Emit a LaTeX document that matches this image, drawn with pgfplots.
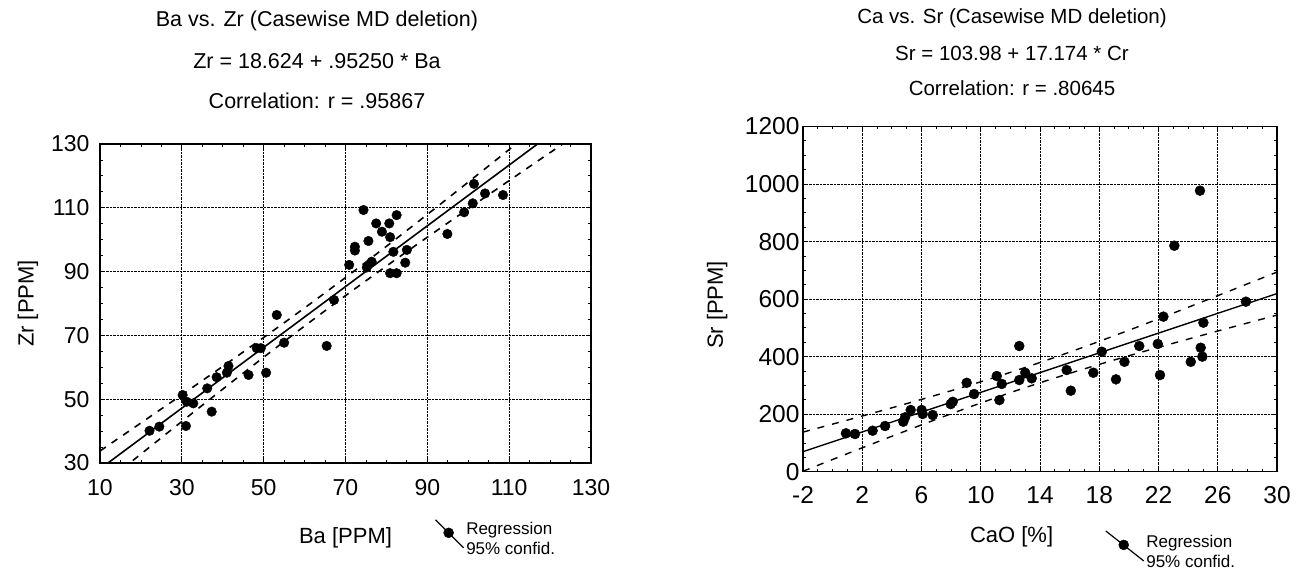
\documentclass[border=0pt]{standalone}
\usepackage{fontspec}
\setmainfont{Liberation Sans}
\usepackage{pgfplots}
\pgfplotsset{compat=1.18}
\pgfplotsset{myax/.style={
  scale only axis,
  axis line style={line width=1.5pt},
  tick align=inside, major tick length=5pt, minor tick length=3pt,
  tick style={black, line width=0.8pt},
  grid=major, major grid style={densely dotted, line width=0.7pt, black},
  /pgf/number format/assume math mode=true,
  /pgf/number format/1000 sep={},
  tick label style={font=\fontsize{23}{23}\selectfont},
  label style={font=\fontsize{22}{22}\selectfont},
  minor x tick num=3, minor y tick num=3,
  legend style={draw=none, fill=none, inner sep=0pt, font=\fontsize{17}{20}\selectfont},
}}
\begin{document}
\begin{tikzpicture}
\path[use as bounding box] (0pt,0pt) rectangle (1304pt,571pt);
% ---------------- left -----------------
\begin{axis}[myax,
  at={(100pt,108pt)}, anchor=south west,
  width=491pt, height=319pt,
  xmin=10, xmax=130, ymin=30, ymax=130,
  xtick={10,30,...,130}, ytick={30,50,...,130},
  xticklabel style={yshift=-13pt},
  yticklabel style={xshift=-7pt},
  xlabel={Ba [PPM]}, ylabel={Zr [PPM]},
  xlabel style={at={(axis description cs:0.5,-0.235)}, anchor=center},
  ylabel style={at={(axis description cs:-0.147,0.5)}, anchor=center},
  legend style={at={(axis description cs:0.682,-0.222)}, anchor=west},
]
\addplot[forget plot, only marks, mark=*, mark size=4.8pt, black] coordinates {
(22.1,40.1) (24.5,41.4) (30.2,51.3) (31.2,49.2) (32.8,48.7) (31.0,41.6)
(36.2,53.4) (37.3,46.1) (38.5,56.9) (41.0,58.3) (41.4,60.4) (46.3,57.6)
(48.3,66.0) (49.3,66.0) (50.6,58.3) (53.2,76.4) (55.0,67.7) (65.4,66.7)
(67.2,81.1) (70.9,92.1) (72.3,97.8) (72.3,96.6) (74.4,109.3) (75.6,99.6)
(75.2,91.3) (76.4,93.1) (77.5,105.1) (78.9,102.5) (80.7,105.1) (82.5,107.7)
(80.9,100.8) (81.7,96.2) (85.0,96.8) (84.6,92.8) (80.9,89.5) (82.5,89.5)
(94.9,101.8) (99.0,108.6) (101.1,111.4) (101.4,117.5) (104.1,114.5) (108.5,114.0)
};
\addplot[forget plot, black, line width=1.6pt] coordinates {(10,28.149) (130,142.449)};
\addplot[forget plot, black, line width=1.6pt, dash pattern=on 7pt off 7pt, smooth] coordinates {
(10,33.77) (20,42.55) (30,51.38) (40,60.29) (50,69.35) (60,78.61) (70,88.13)
(80,97.92) (90,107.92) (100,118.05) (110,128.27) (120,138.55) (130,148.85)};
\addplot[forget plot, black, line width=1.6pt, dash pattern=on 7pt off 7pt, smooth] coordinates {
(10,22.53) (20,32.80) (30,43.02) (40,53.15) (50,63.15) (60,72.94) (70,82.46)
(80,91.73) (90,100.78) (100,109.70) (110,118.53) (120,127.30) (130,136.04)};
\addlegendimage{legend image code/.code={
  \draw[black, line width=1.2pt] (0pt,14pt) -- (28pt,-14pt);
  \fill[black] (13pt,1pt) circle (5pt);}}
\addlegendentry{\begin{tabular}{@{}l@{}}Regression\\95\% confid.\end{tabular}}
\end{axis}
\node[font=\fontsize{21.5}{21.5}\selectfont] at (317pt,550pt) {Ba vs. Zr (Casewise MD deletion)};
\node[font=\fontsize{21.5}{21.5}\selectfont] at (317pt,510pt) {Zr = 18.624 + .95250 * Ba};
\node[font=\fontsize{21.5}{21.5}\selectfont] at (317pt,470pt) {Correlation: r = .95867};
% ---------------- right -----------------
\begin{axis}[myax,
  at={(803pt,99.3pt)}, anchor=south west,
  width=474pt, height=345.2pt,
  xmin=-2, xmax=30, ymin=0, ymax=1200,
  xtick={-2,2,...,30}, xticklabels={-2,2,6,10,14,18,22,26,30},
  ytick={0,200,...,1200},
  tick label style={font=\fontsize{24.5}{24.5}\selectfont},
  xticklabel style={yshift=-11pt},
  xlabel={CaO [\%]}, ylabel={Sr [PPM]},
  xlabel style={at={(axis description cs:0.44,-0.188)}, anchor=center},
  ylabel style={at={(axis description cs:-0.181,0.483)}, anchor=center},
  legend style={at={(axis description cs:0.637,-0.215)}, anchor=west},
]
\addplot[forget plot, only marks, mark=*, mark size=5pt, black] coordinates {
(0.90,133.5) (1.51,131) (2.70,142.5) (3.54,158.9) (4.77,173.8) (4.89,189)
(5.27,214.5) (6.01,214.5) (6.08,200.6) (6.76,197) (7.97,235) (8.11,243)
(9.05,309) (9.55,270) (11.08,332.6) (11.42,305) (11.26,249) (12.6,437)
(12.6,318.7) (13.0,344) (13.44,324.6) (15.8,353.5) (16.08,281.6) (17.6,344)
(18.17,417) (19.13,321) (19.7,382) (20.7,437) (21.95,444) (22.1,336)
(22.33,539) (23.07,785.6) (24.18,382) (24.8,977) (25.03,518) (24.85,431)
(24.96,400) (27.9,591)
};
\addplot[forget plot, black, line width=1.4pt] coordinates {(-2,69.632) (30,619.2)};
\addplot[forget plot, black, line width=1.4pt, dash pattern=on 7pt off 8pt, smooth] coordinates {
(-2,137.66) (0,165.47) (2,193.60) (4,222.17) (6,251.36) (8,281.41) (10,312.61)
(12,345.29) (14,379.63) (16,415.65) (18,453.15) (20,491.80) (22,531.31)
(24,571.43) (26,611.99) (28,652.88) (30,694.01)};
\addplot[forget plot, black, line width=1.4pt, dash pattern=on 7pt off 8pt, smooth] coordinates {
(-2,1.60) (0,42.49) (2,83.06) (4,123.18) (6,162.68) (8,201.33) (10,238.83)
(12,274.85) (14,309.20) (16,341.87) (18,373.07) (20,403.12) (22,432.31)
(24,460.88) (26,489.01) (28,516.82) (30,544.39)};
\addlegendimage{legend image code/.code={
  \draw[black, line width=1.2pt] (0pt,15pt) -- (38pt,-15pt);
  \fill[black] (18pt,1pt) circle (5pt);}}
\addlegendentry{\begin{tabular}{@{}l@{}}Regression\\95\% confid.\end{tabular}}
\end{axis}
\node[font=\fontsize{20.5}{20.5}\selectfont] at (1012pt,553pt) {Ca vs. Sr (Casewise MD deletion)};
\node[font=\fontsize{20.5}{20.5}\selectfont] at (1012pt,518pt) {Sr = 103.98 + 17.174 * Cr};
\node[font=\fontsize{20.5}{20.5}\selectfont] at (1012pt,483pt) {Correlation: r = .80645};
\end{tikzpicture}
\end{document}
